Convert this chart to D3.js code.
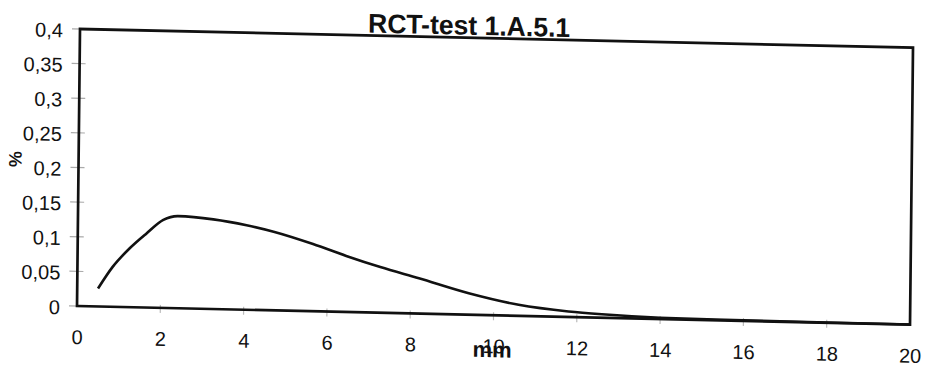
<!DOCTYPE html>
<html>
<head>
<meta charset="utf-8">
<script src="https://cdn.jsdelivr.net/npm/d3@7"></script>
<style>
  html, body { margin: 0; padding: 0; background: #fff; }
  svg { display: block; }
  text { font-family: "Liberation Sans", Arial, sans-serif; fill: #111; }
</style>
</head>
<body>
<svg id="chart" width="927" height="366"></svg>
<script>
// Particle size distribution, RCT-test 1.A.5.1
const title = "RCT-test 1.A.5.1";
const xLabel = "mm";
const yLabel = "%";

const sizeMm = [0.5, 0.85, 1.25, 1.65, 2.05, 2.4, 3.25, 4.05, 4.7, 5.65, 6.45, 7.27, 8.2, 9.4, 10.6, 11.8, 12.6, 14, 16, 18, 20];
const percent = [0.026, 0.058, 0.085, 0.107, 0.127, 0.133, 0.1295, 0.122, 0.1135, 0.097, 0.081, 0.066, 0.051, 0.031, 0.016, 0.008, 0.005, 0.002, 0.001, 0.0005, 0.0002];

const xTicks = [0, 2, 4, 6, 8, 10, 12, 14, 16, 18, 20];
const xTickLabels = ["0", "2", "4", "6", "8", "10", "12", "14", "16", "18", "20"];
const yTicks = [0, 0.05, 0.1, 0.15, 0.2, 0.25, 0.3, 0.35, 0.4];
const yTickLabels = ["0", "0,05", "0,1", "0,15", "0,2", "0,25", "0,3", "0,35", "0,4"];

const W = 833, H = 277;
const svg = d3.select("#chart");
svg.append("rect").attr("width", 927).attr("height", 366).attr("fill", "#fff");

// the printed sheet sits slightly skewed on the page
const g = svg.append("g")
  .attr("transform", "matrix(1, 0.0224, -0.0108, 1, 80, 29)");

const x = d3.scaleLinear().domain([0, 20]).range([0, W]);
const y = d3.scaleLinear().domain([0, 0.4]).range([H, 0]);

// faint tick marks crossing the axes
g.append("g").selectAll("line").data(yTicks).join("line")
  .attr("x1", -8).attr("x2", 6)
  .attr("y1", d => y(d)).attr("y2", d => y(d))
  .attr("stroke", "#aaa").attr("stroke-width", 1.2);
g.append("g").selectAll("line").data(xTicks.slice(1, -1)).join("line")
  .attr("x1", d => x(d)).attr("x2", d => x(d))
  .attr("y1", H - 3).attr("y2", H + 5)
  .attr("stroke", "#bbb").attr("stroke-width", 1.2);

// y axis labels
const yAxis = d3.axisLeft(y).tickValues(yTicks).tickSize(0).tickPadding(17)
  .tickFormat((d, i) => yTickLabels[i]);
const gy = g.append("g").call(yAxis);
gy.select(".domain").remove();
gy.selectAll("text")
  .style("font-size", "20px")
  .attr("dy", "0.4em")
  .attr("fill", "#111");

// x axis labels
const xAxis = d3.axisBottom(x).tickValues(xTicks).tickSize(0).tickPadding(0)
  .tickFormat((d, i) => xTickLabels[i]);
const gx = g.append("g").attr("transform", `translate(0,${H})`).call(xAxis);
gx.select(".domain").remove();
gx.selectAll("text")
  .style("font-size", "20px")
  .attr("y", 38).attr("dy", 0)
  .attr("fill", "#111");

// plot frame
g.append("rect")
  .attr("x", x(0)).attr("y", y(0.4))
  .attr("width", x(20) - x(0)).attr("height", y(0) - y(0.4))
  .attr("fill", "none").attr("stroke", "#111").attr("stroke-width", 2.7);

// distribution curve
const line = d3.line()
  .x((d, i) => x(sizeMm[i]))
  .y(d => y(d))
  .curve(d3.curveMonotoneX);
g.append("path")
  .datum(percent)
  .attr("d", line)
  .attr("fill", "none")
  .attr("stroke", "#111")
  .attr("stroke-width", 2.6)
  .attr("stroke-linejoin", "round");

// title
g.append("text")
  .attr("x", 389).attr("y", -3)
  .attr("text-anchor", "middle")
  .attr("textLength", 202).attr("lengthAdjust", "spacingAndGlyphs")
  .style("font-size", "27px").style("font-weight", "bold")
  .text(title);

// axis titles
g.append("text")
  .attr("x", W / 2 - 1).attr("y", H + 42)
  .attr("text-anchor", "middle")
  .style("font-size", "22px").style("font-weight", "bold")
  .text(xLabel);

g.append("text")
  .attr("transform", `translate(-57,${H / 2 - 7}) rotate(-90)`)
  .attr("text-anchor", "middle")
  .style("font-size", "18px").style("font-weight", "bold")
  .text(yLabel);
</script>
</body>
</html>
